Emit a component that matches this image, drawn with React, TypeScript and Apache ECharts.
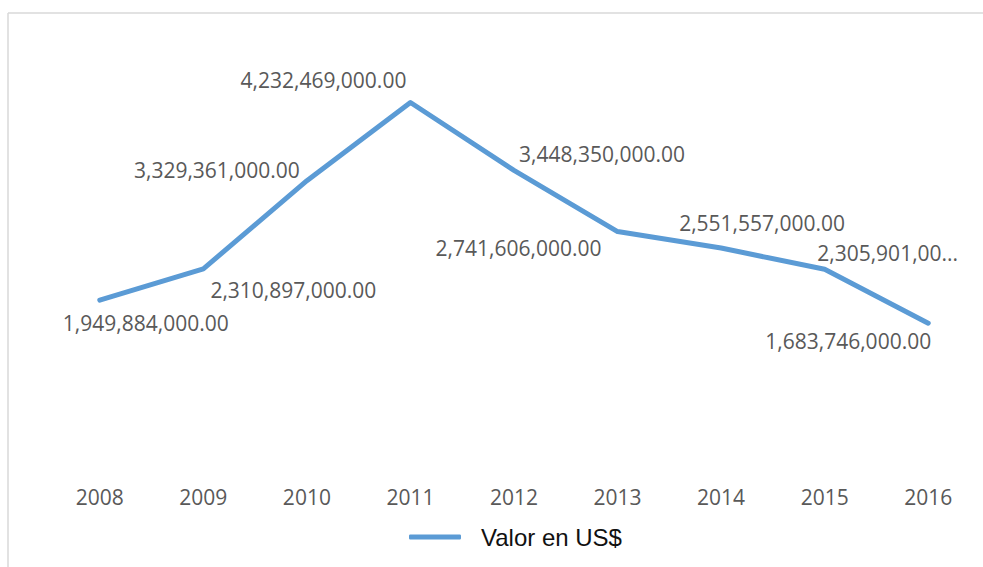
import React, { useEffect, useRef } from "react";
import * as echarts from "echarts";

const years = ["2008", "2009", "2010", "2011", "2012", "2013", "2014", "2015", "2016"];
const values = [
  1949884000, 2310897000, 3329361000, 4232469000, 3448350000,
  2741606000, 2551557000, 2305901000, 1683746000,
];
const seriesName = "Valor en US$";

function fmt(v: number): string {
  return v.toLocaleString("en-US", { minimumFractionDigits: 2, maximumFractionDigits: 2 });
}

export default function App() {
  const ref = useRef<HTMLDivElement>(null);
  useEffect(() => {
    if (!ref.current) return;
    const chart = echarts.init(ref.current, undefined, { renderer: "svg" });
    const offsets: [number, number][] = [
      [46, 23], [90, 21], [-90, -11], [-87, -22], [88, -16],
      [-99, 16], [41, -25], [63, -16], [-80, 18],
    ];
    const data = values.map((v, i) => {
      const item: any = { value: v };
      if (i === 7) {
        item.label = { width: 150, overflow: "truncate", ellipsis: "..." };
      }
      return item;
    });
    chart.setOption({
      animation: false,
      backgroundColor: "#ffffff",
      grid: { left: 48, right: 3, top: 36, bottom: 98 },
      xAxis: {
        type: "category",
        data: years,
        boundaryGap: true,
        axisLine: { show: false },
        axisTick: { show: false },
        axisLabel: {
          color: "#595959",
          fontFamily: "Open Sans",
          fontSize: 21,
          margin: 17,
        },
      },
      yAxis: {
        type: "value",
        min: 0,
        max: 5000000000,
        show: false,
        splitLine: { show: false },
      },
      legend: {
        data: [seriesName],
        left: 409,
        top: 525,
        padding: 0,
        itemWidth: 52,
        itemHeight: 5,
        icon: "roundRect",
        textStyle: {
          color: "#111111",
          fontFamily: "Liberation Sans",
          fontSize: 24,
          padding: [0, 0, 0, 15],
        },
      },
      series: [
        {
          name: seriesName,
          type: "line",
          data,
          symbol: "circle",
          symbolSize: 2,
          showSymbol: true,
          color: "#5B9BD5",
          itemStyle: { color: "#5B9BD5" },
          lineStyle: { width: 5, color: "#5B9BD5", cap: "round", join: "round" },
          labelLayout: (p: any) => ({
            dx: offsets[p.dataIndex][0],
            dy: offsets[p.dataIndex][1],
            hideOverlap: false,
          }),
          label: {
            show: true,
            position: "inside",
            color: "#595959",
            fontFamily: "Open Sans",
            fontSize: 21,
            formatter: (p: any) => fmt(p.value),
          },
        },
      ],
      graphic: [
        {
          type: "line",
          shape: { x1: 8, y1: 13, x2: 983, y2: 13 },
          style: { stroke: "#d9d9d9", lineWidth: 1.5 },
        },
        {
          type: "line",
          shape: { x1: 8, y1: 13, x2: 8, y2: 567 },
          style: { stroke: "#d9d9d9", lineWidth: 1.5 },
        },
      ],
    });
    return () => chart.dispose();
  }, []);
  return (
    <div
      ref={ref}
      style={{ position: "fixed", left: 0, top: 0, width: 983, height: 567, background: "#fff" }}
    />
  );
}
